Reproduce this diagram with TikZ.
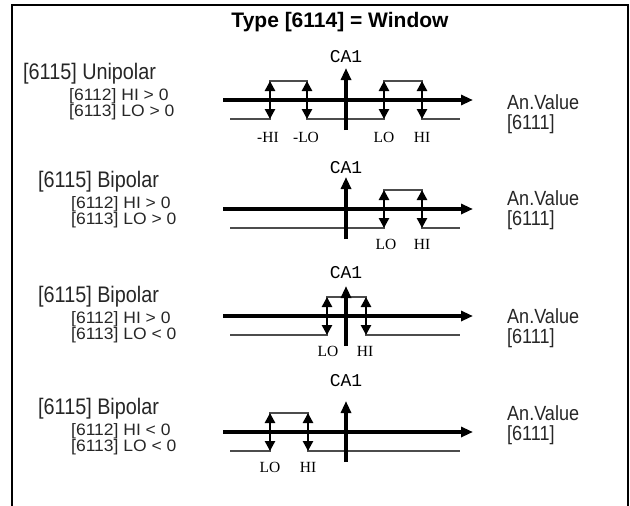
\documentclass[tikz,border=0pt]{standalone}
\usepackage{fontspec}
\setmainfont{Liberation Serif}
\newfontfamily\labelsf{Liberation Sans}
\newfontfamily\narrowsf[FakeStretch=0.88]{Liberation Sans}
\newfontfamily\widesf[FakeStretch=1.06]{Liberation Sans}
\newfontfamily\monof{Liberation Mono}
\usetikzlibrary{arrows.meta}

\begin{document}
\begin{tikzpicture}[x=1pt, y=-1pt, >={Triangle[length=12pt,width=10pt]},
    axis/.style={line width=3.2pt, ->},
    level/.style={line width=1.1pt, black!70},
    window/.style={line width=2.6pt, >={Triangle[length=10pt,width=10pt]}, <->},
    head/.style={font=\labelsf\bfseries\fontsize{21}{24}\selectfont},
    mode/.style={anchor=west, inner sep=0pt, font=\narrowsf\fontsize{22.5}{24}\selectfont, text=black!85},
    limit/.style={anchor=west, inner sep=0pt, font=\widesf\fontsize{16.5}{18}\selectfont, text=black!85},
    value/.style={anchor=west, inner sep=0pt, font=\narrowsf\fontsize{20.5}{22}\selectfont, text=black!85},
    ca/.style={font=\monof\fontsize{18}{20}\selectfont},
    tick/.style={font=\fontsize{15.5}{17}\selectfont}]
    \useasboundingbox (0,0) rectangle (630,506);
    \draw[line width=2pt] (12,506) -- (12,5) -- (628,5) -- (628,506);
    \node[head] (title) at (340,22) {Type [6114] = Window};

    % Unipolar
    \begin{scope}[shift={(0,100)}]
        \node[mode] (m1) at (23,-26) {[6115] Unipolar};
        \node[limit] (h1) at (69,-4) {[6112] HI > 0};
        \node[limit] (o1) at (69,12) {[6113] LO > 0};
        \node[value] (v1) at (507,2) {An.Value};
        \node[value] (r1) at (507,24) {[6111]};
        \draw[level] (230,19) -- (270,19) -- (270,-19) -- (307,-19) -- (307,19)
            -- (384,19) -- (384,-19) -- (422,-19) -- (422,19) -- (460,19);
        \draw[axis] (223,0) -- (473,0);
        \draw[axis] (346,30) -- (346,-32);
        \node[ca] (c1) at (346,-43) {CA1};
        \draw[window] (270,-19) -- (270,19);
        \draw[window] (307,-19) -- (307,19);
        \draw[window] (384,-19) -- (384,19);
        \draw[window] (422,-19) -- (422,19);
        \node[tick] at (268,37) {-HI};
        \node[tick] at (306,37) {-LO};
        \node[tick] at (384,37) {LO};
        \node[tick] at (422,37) {HI};
    \end{scope}

    % Bipolar, HI > 0, LO > 0
    \begin{scope}[shift={(0,209)}]
        \node[mode] (m2) at (38,-27) {[6115] Bipolar};
        \node[limit] (h2) at (71,-5) {[6112] HI > 0};
        \node[limit] (o2) at (71,11) {[6113] LO > 0};
        \node[value] (v2) at (507,-11) {An.Value};
        \node[value] (r2) at (507,11) {[6111]};
        \draw[level] (230,19) -- (384,19) -- (384,-19) -- (422,-19) -- (422,19) -- (460,19);
        \draw[axis] (223,0) -- (473,0);
        \draw[axis] (346,30) -- (346,-32);
        \node[ca] (c2) at (346,-41) {CA1};
        \draw[window] (384,-19) -- (384,19);
        \draw[window] (422,-19) -- (422,19);
        \node[tick] at (386,35) {LO};
        \node[tick] at (422,35) {HI};
    \end{scope}

    % Bipolar, HI > 0, LO < 0
    \begin{scope}[shift={(0,316)}]
        \node[mode] (m3) at (38,-19) {[6115] Bipolar};
        \node[limit] (h3) at (71,3) {[6112] HI > 0};
        \node[limit] (o3) at (71,19) {[6113] LO < 0};
        \node[value] (v3) at (507,0) {An.Value};
        \node[value] (r3) at (507,22) {[6111]};
        \draw[level] (230,19) -- (327,19) -- (327,-19) -- (366,-19) -- (366,19) -- (460,19);
        \draw[axis] (223,0) -- (473,0);
        \draw[axis] (346,30) -- (346,-30);
        \node[ca] (c3) at (346,-43) {CA1};
        \draw[window] (327,-19) -- (327,19);
        \draw[window] (366,-19) -- (366,19);
        \node[tick] at (328,35) {LO};
        \node[tick] at (365,35) {HI};
    \end{scope}

    % Bipolar, HI < 0, LO < 0
    \begin{scope}[shift={(0,432)}]
        \node[mode] (m4) at (38,-23) {[6115] Bipolar};
        \node[limit] (h4) at (71,-1) {[6112] HI < 0};
        \node[limit] (o4) at (71,15) {[6113] LO < 0};
        \node[value] (v4) at (507,-19) {An.Value};
        \node[value] (r4) at (507,3) {[6111]};
        \draw[level] (230,19) -- (270,19) -- (270,-19) -- (308,-19) -- (308,19) -- (460,19);
        \draw[axis] (223,0) -- (473,0);
        \draw[axis] (346,30) -- (346,-31);
        \node[ca] (c4) at (346,-51) {CA1};
        \draw[window] (270,-19) -- (270,19);
        \draw[window] (308,-19) -- (308,19);
        \node[tick] at (270,35) {LO};
        \node[tick] at (308,35) {HI};
    \end{scope}
\end{tikzpicture}
\end{document}
